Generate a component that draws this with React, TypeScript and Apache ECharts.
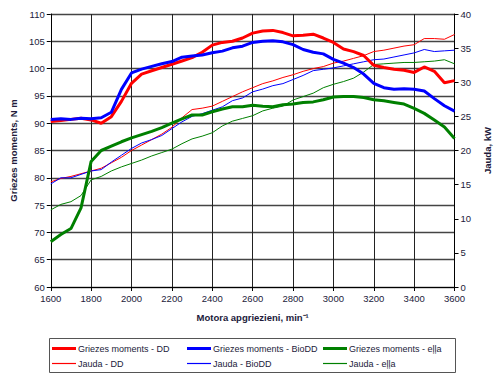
import React, { useEffect, useRef } from "react";
import * as echarts from "echarts";

const rpm = [1600, 1650, 1700, 1750, 1800, 1850, 1900, 1950, 2000, 2050, 2100, 2150, 2200, 2250, 2300, 2350, 2400, 2450, 2500, 2550, 2600, 2650, 2700, 2750, 2800, 2850, 2900, 2950, 3000, 3050, 3100, 3150, 3200, 3250, 3300, 3350, 3400, 3450, 3500, 3550, 3600];

// Torque, N m (left axis)
const torqueDD = [90.3, 90.5, 90.7, 90.9, 90.6, 90.0, 91.2, 94.0, 97.3, 99.0, 99.6, 100.2, 100.8, 101.4, 102.0, 103.0, 104.3, 104.8, 105.0, 105.6, 106.5, 106.9, 107.0, 106.6, 106.0, 106.1, 106.3, 105.6, 104.8, 103.6, 103.1, 102.4, 100.6, 100.2, 99.9, 99.7, 99.3, 100.3, 99.5, 97.4, 97.8];
const torqueBioDD = [90.7, 90.8, 90.7, 90.9, 90.8, 91.0, 92.0, 96.2, 99.2, 99.9, 100.4, 100.9, 101.3, 102.1, 102.3, 102.5, 102.9, 103.2, 103.8, 104.1, 104.8, 105.0, 105.1, 104.9, 104.4, 103.5, 103.0, 102.7, 101.7, 101.0, 100.2, 99.0, 97.3, 96.5, 96.2, 96.3, 96.2, 95.9, 94.5, 93.2, 92.2];
const torqueOil = [68.3, 69.6, 70.7, 74.5, 83.0, 85.0, 85.8, 86.6, 87.3, 87.9, 88.5, 89.2, 90.0, 90.8, 91.5, 91.5, 92.1, 92.6, 93.0, 93.0, 93.3, 93.1, 93.0, 93.4, 93.5, 93.8, 93.9, 94.3, 94.8, 94.9, 94.9, 94.7, 94.3, 94.1, 93.8, 93.5, 92.7, 91.8, 90.6, 89.3, 87.2];

// Power, kW (right axis)
const powerDD = [15.4, 15.9, 16.2, 16.6, 17.0, 17.4, 18.2, 19.0, 20.0, 20.8, 21.6, 22.4, 23.4, 24.8, 26.0, 26.2, 26.5, 27.2, 27.9, 28.6, 29.2, 29.8, 30.2, 30.7, 31.1, 31.6, 32.0, 32.3, 32.8, 33.1, 33.5, 33.9, 34.5, 34.7, 35.0, 35.3, 35.5, 36.4, 36.4, 36.3, 37.0];
const powerBioDD = [15.1, 16.0, 16.0, 16.5, 17.0, 17.2, 18.3, 19.3, 20.3, 21.1, 21.6, 22.2, 23.2, 24.2, 25.0, 25.4, 25.9, 26.4, 27.3, 27.7, 28.6, 29.0, 29.5, 29.8, 30.4, 31.0, 31.7, 31.9, 32.1, 32.4, 32.7, 33.0, 33.3, 33.4, 33.7, 34.0, 34.3, 34.8, 34.5, 34.6, 34.7];
const powerOil = [11.3, 12.1, 12.5, 13.4, 15.7, 16.2, 17.0, 17.6, 18.1, 18.6, 19.2, 19.7, 20.2, 21.0, 21.7, 22.1, 22.6, 23.6, 24.3, 24.7, 25.1, 25.8, 26.2, 26.5, 27.4, 27.9, 28.4, 29.2, 29.7, 30.1, 30.6, 31.5, 32.6, 32.7, 32.8, 32.9, 32.9, 33.0, 33.1, 33.3, 32.7];

const torqueNames = ["Griezes moments - DD", "Griezes moments - BioDD", "Griezes moments - eļļa"];
const powerNames = ["Jauda - DD", "Jauda - BioDD", "Jauda - eļļa"];
const colors = ["#ff0000", "#0000ff", "#008000"];

const FONT = "Liberation Sans, Arial, sans-serif";
const TXT = "#221a3a";

const pairs = (vals: number[]) => rpm.map((r, i) => [r, vals[i]]);

export default function App() {
  const ref = useRef<HTMLDivElement>(null);
  useEffect(() => {
    if (!ref.current) return;
    const chart = echarts.init(ref.current, undefined, { renderer: "svg" });
    const torque = [torqueDD, torqueBioDD, torqueOil];
    const power = [powerDD, powerBioDD, powerOil];
    const series: any[] = [];
    torque.forEach((t, i) => {
      series.push({
        name: torqueNames[i],
        type: "line",
        yAxisIndex: 0,
        data: pairs(t),
        symbol: "none",
        z: 4,
        lineStyle: { color: colors[i], width: 3 },
        itemStyle: { color: colors[i] },
      });
    });
    power.forEach((p, i) => {
      series.push({
        name: powerNames[i],
        type: "line",
        yAxisIndex: 1,
        data: pairs(p),
        symbol: "none",
        z: 3,
        lineStyle: { color: colors[i], width: 1 },
        itemStyle: { color: colors[i] },
      });
    });
    const colLeft = [52, 187, 323];
    const legends: any[] = [];
    [torqueNames, powerNames].forEach((names, row) => {
      names.forEach((nm, c) => {
        legends.push({
          left: colLeft[c],
          top: row === 0 ? 344 : 359,
          orient: "horizontal",
          padding: 0,
          itemWidth: 24,
          itemHeight: row === 0 ? 3 : 1.2,
          icon: "rect",
          selectedMode: false,
          data: [{ name: nm, itemStyle: { color: colors[c] } }],
          textStyle: { fontFamily: FONT, fontSize: 9, color: TXT, padding: [0, 0, 0, -3] },
        });
      });
    });
    const plain = (v: number) => String(v);
    chart.setOption({
      animation: false,
      backgroundColor: "#ffffff",
      textStyle: { fontFamily: FONT },
      grid: { left: 46, right: 41, top: 14, bottom: 95, containLabel: false },
      legend: legends,
      graphic: [
        {
          type: "rect",
          shape: { x: 49.5, y: 338.5, width: 406, height: 34 },
          style: { fill: "none", stroke: "#555555", lineWidth: 1 },
          silent: true,
        },
      ],
      xAxis: {
        type: "value",
        min: 1600,
        max: 3600,
        interval: 200,
        name: "Motora apgriezieni, min⁻¹",
        nameLocation: "middle",
        nameGap: 25,
        nameTextStyle: { fontFamily: FONT, fontSize: 9.5, fontWeight: "bold", color: TXT },
        axisLine: { show: true, lineStyle: { color: "#000", width: 1 } },
        axisTick: { show: true, length: 4, lineStyle: { color: "#000" } },
        axisLabel: { fontFamily: FONT, fontSize: 9.5, color: TXT, margin: 6, formatter: plain },
        splitLine: { show: true, lineStyle: { color: "#222", width: 1 } },
      },
      yAxis: [
        {
          type: "value",
          min: 60,
          max: 110,
          interval: 5,
          position: "left",
          name: "Griezes moments, N m",
          nameLocation: "middle",
          nameGap: 29,
          nameRotate: 90,
          nameTextStyle: { fontFamily: FONT, fontSize: 9.5, fontWeight: "bold", color: TXT },
          axisLine: { show: true, lineStyle: { color: "#000", width: 1 } },
          axisTick: { show: true, length: 4, lineStyle: { color: "#000" } },
          axisLabel: { fontFamily: FONT, fontSize: 9.5, color: TXT, margin: 6, formatter: plain },
          splitLine: { show: true, lineStyle: { color: "#444", width: 1.3 } },
        },
        {
          type: "value",
          min: 0,
          max: 40,
          interval: 5,
          position: "right",
          name: "Jauda, kW",
          nameLocation: "middle",
          nameGap: 26,
          nameRotate: 90,
          nameTextStyle: { fontFamily: FONT, fontSize: 9.5, fontWeight: "bold", color: TXT },
          axisLine: { show: true, lineStyle: { color: "#000", width: 1 } },
          axisTick: { show: true, length: 4, lineStyle: { color: "#000" } },
          axisLabel: { fontFamily: FONT, fontSize: 9.5, color: TXT, margin: 6, formatter: plain },
          splitLine: { show: false },
        },
      ],
      series,
    });
    return () => chart.dispose();
  }, []);
  return <div ref={ref} style={{ width: 500, height: 382, position: "absolute", left: 0, top: 0 }} />;
}
